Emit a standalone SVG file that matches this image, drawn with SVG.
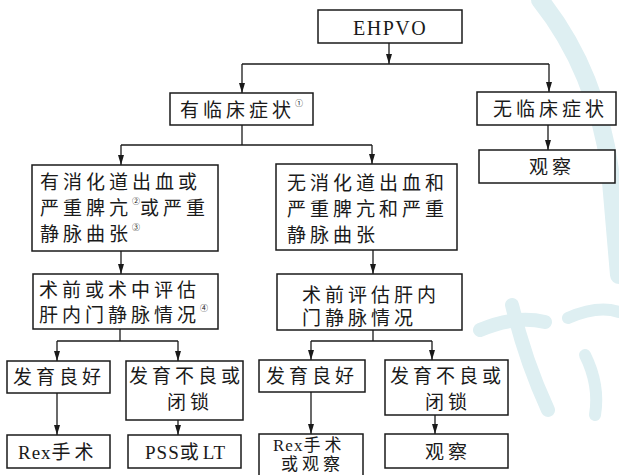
<svg xmlns="http://www.w3.org/2000/svg" width="619" height="475" viewBox="0 0 619 475">
<style>
.box{fill:#fff;stroke:#1a1a1a;stroke-width:1.5}
.ln{fill:none;stroke:#1a1a1a;stroke-width:1.3}
.t{font-family:"Liberation Serif","Noto Sans CJK SC",serif;font-size:19px;fill:#1a1a1a;letter-spacing:4px;dominant-baseline:central}
.e{font-family:"Liberation Serif","Noto Sans CJK SC",serif;font-size:20px;fill:#1a1a1a;letter-spacing:1.5px;dominant-baseline:central}
.sm{font-size:17px}
.sup{font-size:8px;letter-spacing:0}
.lat{letter-spacing:1px}
.wm{fill:none;stroke:#deeff2;stroke-linecap:round}
</style>
<defs>
<marker id="ah" viewBox="0 0 10 6" refX="10" refY="3" markerWidth="10" markerHeight="6" markerUnits="userSpaceOnUse" orient="auto">
<path d="M0,0 L10,3 L0,6 z" fill="#1a1a1a"/>
</marker>
</defs>
<rect width="619" height="475" fill="#fff"/>
<g id="watermark">
<path class="wm" d="M540,0 Q596,70 610,170 Q615,230 619,275" stroke-width="18"/>
<path class="wm" d="M480,330 Q515,315 545,322" stroke-width="14"/>
<path class="wm" d="M512,305 Q525,360 548,410" stroke-width="14"/>
<path class="wm" d="M568,318 Q598,305 619,312" stroke-width="12"/>
<path class="wm" d="M585,355 Q600,385 595,415" stroke-width="12"/>
</g>
<g id="connectors">
<line class="ln" x1="389" y1="43" x2="389" y2="64" marker-end="url(#ah)"/>
<polyline class="ln" points="242,64 549,64"/>
<line class="ln" x1="242" y1="64" x2="242" y2="93" marker-end="url(#ah)"/>
<line class="ln" x1="549" y1="64" x2="549" y2="92" marker-end="url(#ah)"/>
<line class="ln" x1="548" y1="125" x2="548" y2="150" marker-end="url(#ah)"/>
<line class="ln" x1="242" y1="125" x2="242" y2="145"/>
<polyline class="ln" points="121,145 372,145"/>
<line class="ln" x1="121" y1="145" x2="121" y2="165" marker-end="url(#ah)"/>
<line class="ln" x1="372" y1="145" x2="372" y2="164" marker-end="url(#ah)"/>
<line class="ln" x1="121" y1="251" x2="121" y2="274" marker-end="url(#ah)"/>
<line class="ln" x1="373" y1="250" x2="373" y2="274" marker-end="url(#ah)"/>
<line class="ln" x1="120" y1="329" x2="120" y2="341"/>
<polyline class="ln" points="57,341 178,341"/>
<line class="ln" x1="57" y1="341" x2="57" y2="361" marker-end="url(#ah)"/>
<line class="ln" x1="178" y1="341" x2="178" y2="361" marker-end="url(#ah)"/>
<line class="ln" x1="373" y1="330" x2="373" y2="341"/>
<polyline class="ln" points="311,341 432,341"/>
<line class="ln" x1="311" y1="341" x2="311" y2="360" marker-end="url(#ah)"/>
<line class="ln" x1="432" y1="341" x2="432" y2="360" marker-end="url(#ah)"/>
<line class="ln" x1="57" y1="393" x2="57" y2="435" marker-end="url(#ah)"/>
<line class="ln" x1="178" y1="420" x2="178" y2="435" marker-end="url(#ah)"/>
<line class="ln" x1="311" y1="392" x2="311" y2="434" marker-end="url(#ah)"/>
<line class="ln" x1="435" y1="415" x2="435" y2="434" marker-end="url(#ah)"/>
</g>
<g id="n-ehpvo">
<rect class="box" x="318" y="10" width="144" height="33"/>
<text class="e" x="353" y="28">EHPVO</text>
</g>
<g id="n-symptom">
<rect class="box" x="170" y="93" width="143" height="32"/>
<text class="t" x="180" y="110">有临床症状<tspan class="sup" dy="-7">①</tspan></text>
</g>
<g id="n-nosymptom">
<rect class="box" x="477" y="92" width="139" height="33"/>
<text class="t" x="493" y="109">无临床症状</text>
</g>
<g id="n-observe1">
<rect class="box" x="479" y="150" width="136" height="33"/>
<text class="t" x="529" y="167">观察</text>
</g>
<g id="n-bleed">
<rect class="box" x="32" y="165" width="186" height="86"/>
<text class="t" x="40" y="182">有消化道出血或</text>
<text class="t" x="40" y="208">严重脾亢<tspan class="sup" dy="-7">②</tspan><tspan dy="7">或严重</tspan></text>
<text class="t" x="40" y="234">静脉曲张<tspan class="sup" dy="-7">③</tspan></text>
</g>
<g id="n-nobleed">
<rect class="box" x="276" y="164" width="181" height="86"/>
<text class="t" x="287" y="183">无消化道出血和</text>
<text class="t" x="287" y="209">严重脾亢和严重</text>
<text class="t" x="287" y="235">静脉曲张</text>
</g>
<g id="n-eval1">
<rect class="box" x="33" y="274" width="185" height="55"/>
<text class="t" x="39" y="290">术前或术中评估</text>
<text class="t" x="39" y="315">肝内门静脉情况<tspan class="sup" dy="-7">④</tspan></text>
</g>
<g id="n-eval2">
<rect class="box" x="277" y="274" width="185" height="56"/>
<text class="t" x="302" y="295">术前评估肝内</text>
<text class="t" x="302" y="318">门静脉情况</text>
</g>
<g id="n-good1">
<rect class="box" x="7" y="361" width="103" height="32"/>
<text class="t" x="13" y="377">发育良好</text>
</g>
<g id="n-poor1">
<rect class="box" x="126" y="361" width="117" height="59"/>
<text class="t" x="129" y="376">发育不良或</text>
<text class="t" x="167" y="402">闭锁</text>
</g>
<g id="n-good2">
<rect class="box" x="259" y="360" width="106" height="32"/>
<text class="t" x="266" y="376">发育良好</text>
</g>
<g id="n-poor2">
<rect class="box" x="385" y="360" width="123" height="55"/>
<text class="t" x="390" y="376">发育不良或</text>
<text class="t" x="425" y="402">闭锁</text>
</g>
<g id="n-rex1">
<rect class="box" x="7" y="435" width="103" height="33"/>
<text class="t" x="18" y="452"><tspan class="lat">Rex</tspan>手术</text>
</g>
<g id="n-pss">
<rect class="box" x="128" y="435" width="113" height="33"/>
<text class="t" x="145" y="452"><tspan class="lat">PSS</tspan>或<tspan class="lat">LT</tspan></text>
</g>
<g id="n-rex2">
<rect class="box" x="259" y="434" width="104" height="50"/>
<text class="t sm" x="273" y="445"><tspan class="lat">Rex</tspan>手术</text>
<text class="t sm" x="281" y="464">或观察</text>
</g>
<g id="n-observe2">
<rect class="box" x="385" y="434" width="123" height="34"/>
<text class="t" x="425" y="452">观察</text>
</g>
</svg>
